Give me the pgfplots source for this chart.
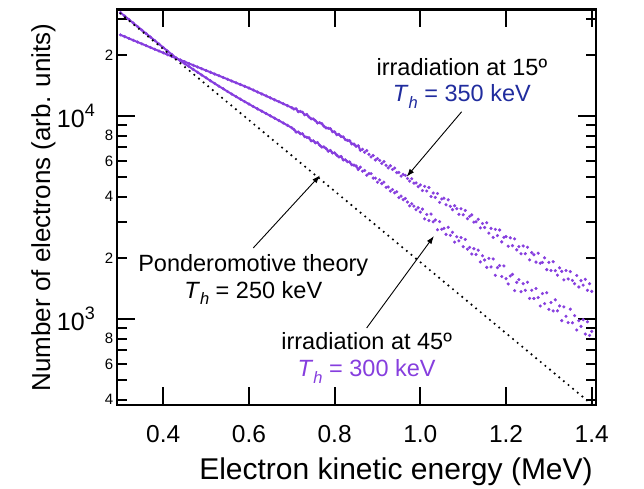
\documentclass[border=0pt]{standalone}
\usepackage{fontspec}
\setmainfont{Liberation Sans}
\usepackage{pgfplots}
\usepackage{pgfplotstable}
\pgfplotsset{compat=1.18}
\usetikzlibrary{arrows.meta}

\definecolor{specviolet}{RGB}{134,62,222}
\definecolor{thblue}{RGB}{32,44,158}
\newcommand{\fs}[1]{\fontsize{#1}{#1}\selectfont}
\newcommand{\Th}{\textit{T}\raisebox{-6.5bp}{\fs{16.5bp}\textit{h}}}

% electron spectrum, irradiation at 45 degrees
\pgfplotstableread{
E N
0.30 32360
0.31 31100
0.32 29890
0.33 28720
0.34 27610
0.35 26530
0.36 25500
0.37 24510
0.38 23560
0.39 22640
0.40 21770
0.41 20910
0.42 20100
0.43 19320
0.44 18710
0.45 18110
0.46 17540
0.47 16980
0.48 16440
0.49 15920
0.50 15420
0.51 14930
0.52 14470
0.53 14030
0.54 13620
0.55 13210
0.56 12830
0.57 12460
0.58 12110
0.59 11780
0.60 11460
0.61 11140
0.62 10850
0.63 10570
0.64 10290
0.65 10020
0.66 9757
0.67 9497
0.68 9243
0.69 8995
0.70 8748
0.705 8584
0.710 8339
0.715 8349
0.720 8184
0.725 8178
0.730 7916
0.735 7855
0.740 7814
0.745 7546
0.750 7558
0.755 7380
0.760 7411
0.765 7187
0.770 7036
0.775 7048
0.780 6915
0.785 6707
0.790 6766
0.795 6577
0.800 6587
0.805 6420
0.810 6284
0.815 6323
0.820 6078
0.825 6087
0.830 5957
0.835 5941
0.840 5749
0.845 5732
0.850 5676
0.855 5455
0.860 5604
0.865 5349
0.870 5395
0.875 5113
0.880 5206
0.885 5203
0.890 4944
0.895 4947
0.900 4715
0.905 4850
0.910 4646
0.915 4725
0.920 4452
0.925 4476
0.930 4268
0.935 4349
0.940 4185
0.945 4237
0.950 3965
0.955 4032
0.960 3871
0.965 3927
0.970 3769
0.975 3611
0.980 3698
0.985 3599
0.990 3454
0.995 3537
1.000 3365
1.005 3477
1.010 3115
1.015 3272
1.020 3055
1.025 3289
1.030 3013
1.035 3076
1.040 2754
1.045 3020
1.050 2767
1.055 2799
1.060 2612
1.065 2831
1.070 2582
1.075 2673
1.080 2393
1.085 2541
1.090 2427
1.095 2518
1.100 2270
1.105 2466
1.110 2208
1.115 2254
1.120 2089
1.125 2219
1.130 2081
1.135 2184
1.140 1911
1.145 2049
1.150 1953
1.155 1797
1.160 1990
1.165 1806
1.170 1977
1.175 1641
1.180 1791
1.185 1834
1.190 1620
1.195 1826
1.200 1580
1.205 1488
1.210 1629
1.215 1659
1.220 1380
1.225 1516
1.230 1563
1.235 1363
1.240 1493
1.245 1385
1.250 1517
1.255 1263
1.260 1386
1.265 1262
1.270 1413
1.275 1275
1.280 1159
1.285 1335
1.290 1191
1.295 1347
1.300 1116
1.305 1206
1.310 1096
1.315 1243
1.320 1097
1.325 1160
1.330 982
1.335 1147
1.340 1032
1.345 960
1.350 1118
1.355 958
1.360 1039
1.365 883
1.370 981
1.375 920
1.380 992
1.385 843
1.390 969
1.395 830
1.400 869
}\spectrumFortyFive

% electron spectrum, irradiation at 15 degrees
\pgfplotstableread{
E N
0.30 25120
0.31 24620
0.32 24120
0.33 23630
0.34 23160
0.35 22690
0.36 22230
0.37 21780
0.38 21340
0.39 20910
0.40 20490
0.41 20070
0.42 19670
0.43 19270
0.44 18900
0.45 18530
0.46 18160
0.47 17800
0.48 17450
0.49 17100
0.50 16770
0.51 16440
0.52 16110
0.53 15800
0.54 15490
0.55 15180
0.56 14880
0.57 14580
0.58 14300
0.59 14010
0.60 13740
0.61 13430
0.62 13140
0.63 12850
0.64 12570
0.65 12290
0.66 12020
0.67 11760
0.68 11500
0.69 11250
0.70 10990
0.705 10830
0.710 10860
0.715 10510
0.720 10540
0.725 10440
0.730 10150
0.735 10180
0.740 9897
0.745 9685
0.750 9678
0.755 9493
0.760 9247
0.765 9282
0.770 9169
0.775 8910
0.780 8740
0.785 8712
0.790 8666
0.795 8384
0.800 8356
0.805 8096
0.810 8123
0.815 7925
0.820 7894
0.825 7651
0.830 7586
0.835 7556
0.840 7289
0.845 7277
0.850 7100
0.855 7140
0.860 6777
0.865 6860
0.870 6633
0.875 6761
0.880 6476
0.885 6291
0.890 6398
0.895 6074
0.900 6177
0.905 6043
0.910 5841
0.915 5969
0.920 5719
0.925 5555
0.930 5689
0.935 5451
0.940 5543
0.945 5263
0.950 5279
0.955 5058
0.960 5157
0.965 5103
0.970 4923
0.975 4780
0.980 4908
0.985 4670
0.990 4684
0.995 4488
1.000 4576
1.005 4294
1.010 4500
1.015 4272
1.020 4446
1.025 4012
1.030 4176
1.035 3972
1.040 4153
1.045 3756
1.050 3900
1.055 3939
1.060 3655
1.065 3865
1.070 3593
1.075 3458
1.080 3616
1.085 3496
1.090 3280
1.095 3493
1.100 3263
1.105 3427
1.110 3121
1.115 3204
1.120 3258
1.125 3002
1.130 3013
1.135 3101
1.140 2812
1.145 2955
1.150 2824
1.155 2982
1.160 2648
1.165 2796
1.170 2524
1.175 2764
1.180 2576
1.185 2745
1.190 2399
1.195 2527
1.200 2547
1.205 2283
1.210 2512
1.215 2299
1.220 2483
1.225 2192
1.230 2273
1.235 2095
1.240 2291
1.245 2098
1.250 2257
1.255 1956
1.260 2123
1.265 2074
1.270 1907
1.275 2110
1.280 1884
1.285 1900
1.290 2002
1.295 1751
1.300 1901
1.305 1733
1.310 1916
1.315 1731
1.320 1645
1.325 1787
1.330 1716
1.335 1559
1.340 1734
1.345 1575
1.350 1712
1.355 1549
1.360 1493
1.365 1638
1.370 1438
1.375 1545
1.380 1469
1.385 1568
1.390 1385
1.395 1492
1.400 1368
}\spectrumFifteen

\begin{document}
\begin{tikzpicture}
% main axis: measured spectra, x ticks, decade ticks
\begin{axis}[
  at={(117bp,82bp)}, anchor=south west,
  scale only axis, width=479bp, height=395.5bp,
  ymode=log,
  xmin=0.292, xmax=1.41,
  ymin=377, ymax=33500,
  axis line style={line width=2.2pt},
  tick style={line width=2pt, black},
  tick align=inside,
  major tick length=18pt,
  minor tick length=10pt,
  xtick={0.4,0.6,0.8,1.0,1.2,1.4},
  xticklabels={0.4,0.6,0.8,1.0,1.2,1.4},
  xticklabel style={font=\fs{24.5bp}, anchor=north, inner sep=0pt, yshift=-20bp},
  ytick={1000,10000},
  yticklabels={10\raisebox{11bp}{\fs{18bp}3}\kern18.3bp,10\raisebox{11bp}{\fs{18bp}4}\kern18.3bp},
  yticklabel style={font=\fs{25bp}, anchor=east, inner sep=0pt, xshift=-3.7bp},
  minor ytick={400,500,600,700,800,900,2000,3000,4000,5000,6000,7000,8000,9000,20000,30000},
]
% measured spectra: joined where the counts are smooth, dots everywhere
\addplot[specviolet, line width=2bp, restrict x to domain=0.29:0.86]
  table[x=E, y=N] {\spectrumFortyFive};
\addplot[specviolet, only marks, mark=*, mark size=1.4bp]
  table[x=E, y=N] {\spectrumFortyFive};
\addplot[specviolet, line width=2bp, restrict x to domain=0.29:0.86]
  table[x=E, y=N] {\spectrumFifteen};
\addplot[specviolet, only marks, mark=*, mark size=1.4bp]
  table[x=E, y=N] {\spectrumFifteen};

% annotations
\node[anchor=base, font=\fs{23.5bp}] at (axis cs:1.097,15920) {irradiation at 15º};
\node[anchor=base, font=\fs{23.5bp}, text=thblue] at (axis cs:1.097,11760) {\Th{} = 350 keV};
\draw[line width=0.9bp, -{Latex[length=8bp, width=5.5bp]}]
  (axis cs:1.0964,10500) -- (axis cs:0.968,5023);

\node[anchor=base, font=\fs{23.5bp}] at (axis cs:0.610,1710) {Ponderomotive theory};
\node[anchor=base, font=\fs{23.5bp}] at (axis cs:0.610,1265) {\Th{} = 250 keV};
\draw[line width=0.9bp, -{Latex[length=8bp, width=5.5bp]}]
  (axis cs:0.610,2239) -- (axis cs:0.7657,5100);

\node[anchor=base, font=\fs{23.5bp}] at (axis cs:0.8747,703.6) {irradiation at 45º};
\node[anchor=base, font=\fs{23.5bp}, text=specviolet] at (axis cs:0.8747,519.8) {\Th{} = 300 keV};
\draw[line width=0.9bp, -{Latex[length=8bp, width=5.5bp]}]
  (axis cs:0.8747,903) -- (axis cs:1.0318,2564);
\end{axis}
% same frame again: short labelled ticks at 2, 4, 6, 8 of each decade
\begin{axis}[
  at={(117bp,82bp)}, anchor=south west,
  scale only axis, width=479bp, height=395.5bp,
  ymode=log,
  xmin=0.292, xmax=1.41,
  ymin=377, ymax=33500,
  axis line style={line width=2.2pt},
  tick style={line width=2pt, black},
  tick align=inside,
  major tick length=10pt,
  xtick=\empty,
  ytick={400,600,800,2000,4000,6000,8000,20000},
  yticklabels={4,6,8,2,4,6,8,2},
  yticklabel style={font=\fs{15bp}, anchor=east, inner sep=0pt, xshift=-3.7bp},
  minor ytick={500},
  minor tick length=10pt,
]
\end{axis}
% ponderomotive scaling, T_h = 250 keV, drawn last on the same frame
\begin{axis}[
  at={(117bp,82bp)}, anchor=south west,
  scale only axis, width=479bp, height=395.5bp,
  ymode=log,
  xmin=0.292, xmax=1.41,
  ymin=377, ymax=33500,
  hide axis,
]
\addplot[black, line width=2.4bp, line cap=round, dash pattern=on 0bp off 6bp]
  coordinates {(0.30,32000) (1.40,380)};
\end{axis}
\node[anchor=base, font=\fs{30bp}] at (396bp,8bp) {Electron kinetic energy (MeV)};
\node[rotate=90, anchor=base, font=\fs{26bp}] at (50bp,279.5bp) {Number of electrons (arb. units)};
\path (0,0) rectangle (644bp,487bp);
\end{tikzpicture}
\end{document}
